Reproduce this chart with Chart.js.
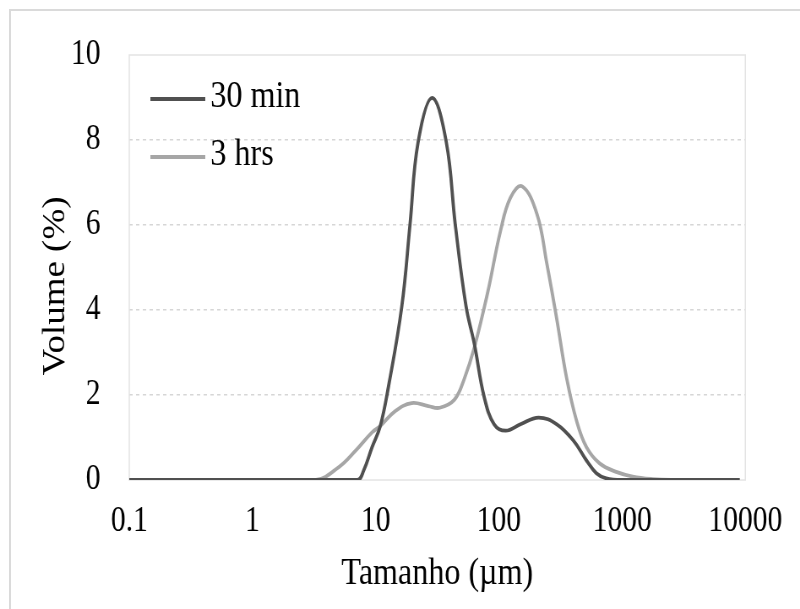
<!DOCTYPE html>
<html>
<head>
<meta charset="utf-8">
<script src="https://cdn.jsdelivr.net/npm/chart.js@4.4.1/dist/chart.umd.min.js"></script>
<style>
  html, body { margin: 0; padding: 0; background: #fff; }
  body { width: 800px; height: 609px; overflow: hidden; position: relative; }
  #frame { position: absolute; left: 9px; top: 9px; width: 900px; height: 700px;
           border-left: 2px solid #dadada; border-top: 2px solid #dadada; }
  /* the reference text is narrow, so the chart is drawn wider and squeezed */
  #wrap { position: absolute; left: 0; top: 0; width: 947px; height: 609px;
          transform: scaleX(0.8448); transform-origin: 0 0; }
</style>
</head>
<body>
<div id="frame"></div>
<div id="wrap"><canvas id="chart" width="947" height="609"></canvas></div>
<script>
const SERIES_NAMES = ["30 min", "3 hrs"];

const size30 = [0.1, 1, 7.08, 8.01, 9.34, 10.9, 12.7, 16.3, 19.0, 22.1, 28.7, 37.4, 44.2, 54.1, 63.2, 76.0, 91.5, 113.5, 149.6, 210, 295, 402, 514, 618, 743, 1000, 9000];
const vol30 = [0, 0, 0, 0.23, 0.77, 1.27, 2.2, 4.09, 6.02, 7.95, 8.99, 7.95, 6.02, 4.09, 3.2, 1.95, 1.31, 1.16, 1.31, 1.47, 1.31, 0.93, 0.46, 0.16, 0.04, 0, 0];

const size3h = [0.1, 1, 3.28, 5.05, 6.87, 9.34, 10.9, 14.4, 19.6, 26.7, 33.1, 43.6, 52.5, 63.2, 80.9, 103, 124, 154.5, 204, 245, 295, 355, 427, 514, 657, 895, 1219, 1766, 2500, 9000];
const vol3h = [0, 0, 0, 0.31, 0.69, 1.12, 1.27, 1.62, 1.81, 1.74, 1.70, 1.89, 2.39, 3.12, 4.40, 5.86, 6.64, 6.91, 6.25, 5.09, 3.78, 2.39, 1.39, 0.77, 0.39, 0.19, 0.08, 0.02, 0, 0];

const xTickValues = [0.1, 1, 10, 100, 1000, 10000];
const xTickLabels = ["0.1", "1", "10", "100", "1000", "10000"];

const SERIF = "'Liberation Serif', 'Times New Roman', serif";
Chart.defaults.font.family = SERIF;
Chart.defaults.color = "#000";

function toPoints(xs, ys) {
  return xs.map((x, i) => ({ x, y: ys[i] }));
}

// light frame round the plot area
const plotBox = {
  id: "plotBox",
  beforeDatasetsDraw(chart) {
    const { ctx, chartArea: a } = chart;
    ctx.save();
    ctx.strokeStyle = "#e4e4e4";
    ctx.lineWidth = 1.5;
    ctx.strokeRect(a.left, a.top, a.right - a.left, a.bottom - a.top);
    ctx.restore();
  },
};

// legend sits inside the plot, top left
const insideLegend = {
  id: "insideLegend",
  afterDraw(chart) {
    const { ctx, chartArea: a } = chart;
    ctx.save();
    ctx.font = "38px " + SERIF;
    ctx.textBaseline = "middle";
    chart.data.datasets.forEach((ds, i) => {
      const y = a.top + 44 + i * 58;
      ctx.strokeStyle = ds.borderColor;
      ctx.lineWidth = 3.8;
      ctx.beginPath();
      ctx.moveTo(a.left + 25, y);
      ctx.lineTo(a.left + 90, y);
      ctx.stroke();
      ctx.fillStyle = "#000";
      ctx.fillText(ds.label, a.left + 96, y - 2);
    });
    ctx.restore();
  },
};

new Chart(document.getElementById("chart"), {
  type: "line",
  data: {
    datasets: [
      {
        label: SERIES_NAMES[0],
        data: toPoints(size30, vol30),
        borderColor: "#505050",
      },
      {
        label: SERIES_NAMES[1],
        data: toPoints(size3h, vol3h),
        borderColor: "#a6a6a6",
      },
    ],
  },
  options: {
    responsive: false,
    animation: false,
    layout: { padding: { top: 48, right: 58, bottom: 0, left: 0 } },
    elements: {
      point: { radius: 0 },
      line: { borderWidth: 3.8, tension: 0.4 },
    },
    plugins: { legend: { display: false }, tooltip: { enabled: false } },
    scales: {
      x: {
        type: "logarithmic",
        min: 0.1,
        max: 10000,
        afterBuildTicks: (s) => { s.ticks = xTickValues.map((v) => ({ value: v })); },
        afterFit: (s) => { s.height = 129; },
        ticks: {
          callback: (v, i) => xTickLabels[i],
          font: { size: 35 },
          padding: 21,
          maxRotation: 0,
          autoSkip: false,
        },
        grid: { display: false, drawTicks: false },
        border: { display: false },
        title: {
          display: true,
          text: "Tamanho (µm)",
          font: { size: 38 },
          padding: { top: 0, bottom: 12 },
        },
      },
      y: {
        min: 0,
        max: 10,
        afterFit: (s) => { s.width = 153; },
        ticks: { stepSize: 2, padding: 34, font: { size: 35 } },
        grid: {
          color: (c) => (c.tick.value === 0 || c.tick.value === 10 ? "rgba(0,0,0,0)" : "#d6d6d6"),
          lineWidth: 1.5,
          drawTicks: false,
        },
        border: { display: false, dash: [4, 4] },
        title: {
          display: true,
          text: "Volume (%)    ",
          font: { size: 37 },
          padding: { top: 44, bottom: 0 },
        },
      },
    },
  },
  plugins: [plotBox, insideLegend],
});
</script>
</body>
</html>
